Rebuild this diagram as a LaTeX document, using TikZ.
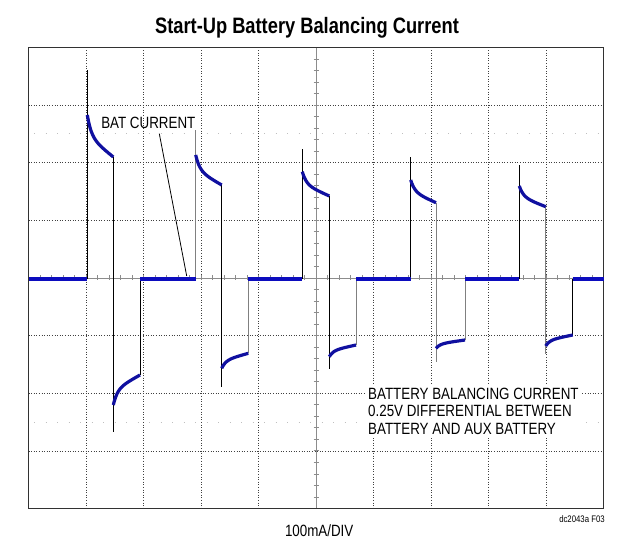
\documentclass[tikz,border=0pt]{standalone}
\usepackage{fontspec}
\newfontfamily\narrowfont{Liberation Sans}[FakeStretch=0.82]
\usepackage{tikz}
\usetikzlibrary{calc}

\definecolor{tracecol}{RGB}{12,12,190}
\definecolor{curvecol}{RGB}{16,16,160}
\definecolor{framecol}{RGB}{50,50,50}

\begin{document}
\begin{tikzpicture}[x=1bp,y=-1bp,
    grid/.style={black!75,line width=0.6bp,dash pattern=on 1bp off 1.6bp},
    faint/.style={black!25,line width=1bp,dash pattern=on 1bp off 10.5bp},
    axis/.style={black!45,line width=0.8bp},
    trace/.style={tracecol,line width=4.5bp},
    curve/.style={curvecol,line width=3.2bp},
    edge/.style={line width=0.8bp},
    lbl/.style={font=\narrowfont\fontsize{16.3bp}{17.7bp}\selectfont,inner sep=2bp}]
    \useasboundingbox (0,0) rectangle (622,552);
    \fill[white] (0,0) rectangle (622,552);

    % graticule
    \foreach \i in {1,2,3,4,6,7,8,9}
        \draw[grid] ({28.5+57.5*\i},47.5) -- ({28.5+57.5*\i},508.5);
    \foreach \j in {1,2,3,5,6,7}
        \draw[grid] (28.5,{47.5+57.625*\j}) -- (603.5,{47.5+57.625*\j});
    \foreach \y in {133.8,422}
        \draw[faint] (34,\y) -- (600,\y);
    \draw[axis] (316,47.5) -- (316,508.5);
    \draw[axis] (28.5,277.9) -- (603.5,277.9);
    \foreach \k in {1,...,39}
        \draw[axis] (313.5,{47.5+11.525*\k}) -- (318.5,{47.5+11.525*\k});
    \foreach \k in {1,...,49}
        \draw[axis] ({28.5+11.5*\k},275.4) -- ({28.5+11.5*\k},280.4);
    \draw[framecol,line width=1.3bp] (28.5,47.5) rectangle (603.5,508.5);

    % pulses
    \foreach \xa/\ya/\ds/\de/\xb/\yb/\rs/\re/\xc/\ca/\cb/\cc in {
        87.3/70/115/157/113.3/431.7/405/375/140/black/black/black,
        195.7/130/155/185/221.7/386.7/368.3/353.3/248.3/gray/black/gray,
        302.3/149.3/171.7/196/329.3/369.3/356.7/345/356/black/black/gray,
        410.7/157.3/180/202.7/436/361.7/348.3/340/465/black/gray/gray,
        519.3/165/186/206.7/545.7/354/346/335/572.7/black/gray/black}
    {
        \draw[edge,\ca] (\xa,279) -- (\xa,\ya);
        \draw[edge,\cb] (\xb,\de) -- (\xb,\yb);
        \draw[edge,\cc] (\xc,\re) -- (\xc,279);
        \pgfmathsetmacro\la{\xb-\xa}
        \pgfmathsetmacro\lb{\xc-\xb}
        \draw[curve] plot[domain=0:\la,samples=25]
            ({\xa+\x},{\ds+(\de-\ds)*(0.5*(1-exp(-\x/4))/(1-exp(-\la/4))+0.5*\x/\la)});
        \draw[curve] plot[domain=0:\lb,samples=25]
            ({\xb+\x},{\rs+(\re-\rs)*(0.5*(1-exp(-\x/4))/(1-exp(-\lb/4))+0.5*\x/\lb)});
    }
    \foreach \u/\v in {28.5/87.3,140/195.7,248.3/302.3,356/410.7,465/519.3,572.7/603.5}
        \draw[trace] (\u,279) -- (\v,279);

    % labels
    \node[font=\narrowfont\bfseries\fontsize{22.3bp}{24bp}\selectfont,anchor=base] (title) at (307,34) {Start-Up Battery Balancing Current};
    \node[lbl,anchor=base] (batlbl) at (148.3,128.3) {BAT CURRENT};
    \coordinate (battip) at (186.7,276);
    \draw[edge] ([xshift=11bp,yshift=-3bp]batlbl.south) -- (battip);
    \node[lbl,fill=white,align=left,anchor=north west,inner sep=3bp] (note) at (365,384.5)
        {BATTERY BALANCING CURRENT\\0.25V DIFFERENTIAL BETWEEN\\BATTERY AND AUX BATTERY};
    \node[lbl,anchor=base] (divlbl) at (319.2,536.7) {100mA/DIV};
    \node[font=\narrowfont\fontsize{9.5bp}{10bp}\selectfont,anchor=base] (figid) at (582,522.3) {dc2043a F03};
\end{tikzpicture}
\end{document}
